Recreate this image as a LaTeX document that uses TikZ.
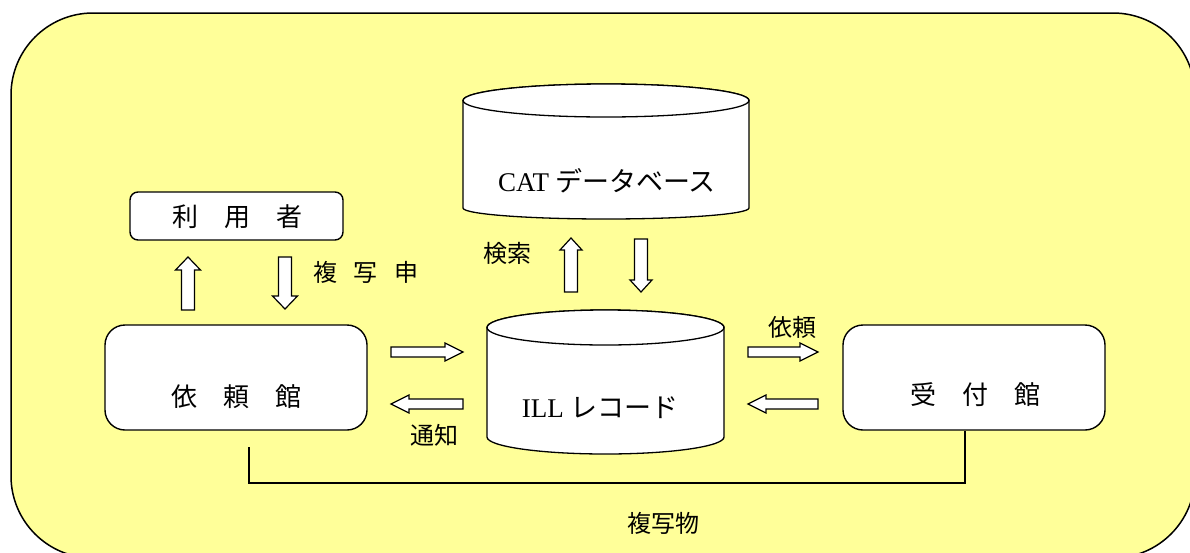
\documentclass[tikz,border=0pt]{standalone}
\usepackage{fontspec}
\setmainfont{Noto Sans CJK JP}
\newfontfamily\latinserif{Liberation Serif}
\usetikzlibrary{calc}
\definecolor{bgyellow}{HTML}{FFFF99}
\tikzset{
  frame/.style={draw=black, line width=1.5pt, fill=bgyellow, rounded corners=82pt},
  roundbox/.style={draw=black, line width=1.4pt, fill=white, rounded corners=#1, inner sep=0pt},
  cyl/.style={draw=black, line width=1.3pt, fill=white},
  lbl/.style={inner sep=0pt, font=\fontsize{24}{24}\selectfont},
  boxlbl/.style={inner sep=0pt, font=\fontsize{26}{26}\selectfont},
  dblbl/.style={inner sep=0pt, font=\fontsize{27}{27}\selectfont},
  arrowbox/.style={draw=black, line width=1.2pt, fill=white, line join=miter},
  link/.style={draw=black, line width=1.4pt},
  pics/barrow/.style n args={4}{code={
    \draw[arrowbox] (0,-#2) -- (#1-#4,-#2) -- (#1-#4,-#3) -- (#1,0) -- (#1-#4,#3) -- (#1-#4,#2) -- (0,#2) -- cycle;
  }},
}
\begin{document}
\begin{tikzpicture}[x=1pt,y=-1pt]
\useasboundingbox (0,0) rectangle (1190,552);
\clip (0,0) rectangle (1190,552);
% outer frame
\path[frame] (11,13) rectangle (1195,558);

% boxes
\node[roundbox=8pt, minimum width=213pt, minimum height=48pt] (user) at (236.5,216) {};
\node[roundbox=20pt, minimum width=262pt, minimum height=105pt] (req) at (236,377.5) {};
\node[roundbox=20pt, minimum width=262pt, minimum height=105pt] (rec) at (974,377.5) {};
\node[boxlbl] (userlbl) at (237,217) {利　用　者};
\node[boxlbl] (reqlbl) at (236,397) {依　頼　館};
\node[boxlbl] (reclbl) at (975,395) {受　付　館};

% CAT database cylinder
\draw[cyl] (463,100.5) -- (463,208) arc[start angle=180, end angle=360, x radius=143pt, y radius=11pt]
  -- (749,100.5) arc[start angle=0, end angle=180, x radius=143pt, y radius=16.5pt] -- cycle;
\draw[cyl] (606,100.5) ellipse[x radius=143pt, y radius=16.5pt];
\node[dblbl] (cat) at (607,181) {{\latinserif CAT} データベース};

% ILL record cylinder
\draw[cyl] (487,327.5) -- (487,437) arc[start angle=180, end angle=360, x radius=118.5pt, y radius=17pt]
  -- (724,327.5) arc[start angle=0, end angle=180, x radius=118.5pt, y radius=17.5pt] -- cycle;
\draw[cyl] (605.5,327.5) ellipse[x radius=118.5pt, y radius=17.5pt];
\node[dblbl] (ill) at (600,408) {{\latinserif ILL} レコード};

% block arrows
\pic[rotate=90]  at (188,310) {barrow={53}{6.5}{12.5}{13}};
\pic[rotate=-90] at (285,257) {barrow={52}{6.5}{12.5}{13}};
\pic[rotate=90]  at (571,292) {barrow={54}{6.5}{11}{12}};
\pic[rotate=-90] at (641,239) {barrow={53}{6.5}{11}{12}};
\pic              at (391,352) {barrow={72}{5}{9}{18}};
\pic[rotate=180] at (463,404) {barrow={72}{5}{9}{18}};
\pic              at (748,352) {barrow={70}{5}{9}{18}};
\pic[rotate=180] at (818,404) {barrow={70}{5}{9}{18}};

% labels
\node[lbl] (copyreq) at (366,272) {複\hspace{17pt}写\hspace{17pt}申};
\node[lbl] (search) at (507,253) {検索};
\node[lbl] (irai) at (792,327) {依頼};
\node[lbl] (tsuchi) at (434,435) {通知};
\node[lbl] (copy) at (663,523) {複写物};

% delivery line
\coordinate (c1) at (249,447);
\coordinate (c2) at (965,483);
\draw[link] (c1) |- (c2) -- (c2 |- rec.south);
\end{tikzpicture}
\end{document}
